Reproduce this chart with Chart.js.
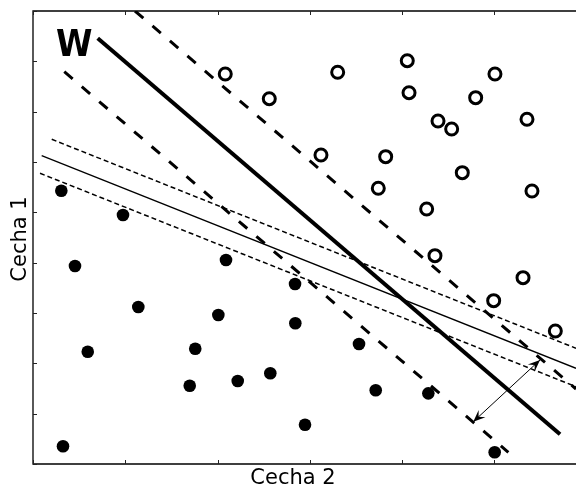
<!DOCTYPE html>
<html lang="pl">
<head>
<meta charset="UTF-8">
<title>Cecha 1 / Cecha 2</title>
<script src="https://cdn.jsdelivr.net/npm/chart.js"></script>
<style>
  html, body { margin: 0; padding: 0; background: #fff; }
  #wrap { width: 576px; height: 488px; }
</style>
</head>
<body>
<div id="wrap"><canvas id="svm" width="576" height="488"></canvas></div>
<script>
// class 1 - open circles
const openX = [2.083, 2.560, 3.301, 4.055, 4.074, 5.005, 4.796, 4.388, 4.536, 5.352,
               3.120, 3.821, 3.741, 4.651, 5.406, 4.265, 4.355, 5.309, 4.991, 5.659];
const openY = [7.749, 7.258, 7.783, 8.013, 7.377, 7.749, 7.278, 6.815, 6.656, 6.849,
               6.139, 6.106, 5.478, 5.788, 5.424, 5.067, 4.139, 3.702, 3.245, 2.643];

// class 2 - filled dots
const dotX = [0.307, 0.975, 0.455, 1.141, 0.593, 2.091, 2.008, 1.758, 1.698, 2.218,
              2.571, 0.325, 2.839, 2.842, 3.532, 3.713, 4.283, 2.947, 5.002];
const dotY = [5.430, 4.947, 3.934, 3.119, 2.231, 4.053, 2.960, 2.291, 1.556, 1.649,
              1.802, 0.352, 3.576, 2.796, 2.384, 1.464, 1.404, 0.781, 0.232];

// separating line W and its margins (end points)
const wX = [0.701, 5.710],      wY = [8.458, 0.590];
const wUpX = [1.105, 5.883],    wUpY = [9.000, 1.490];
const wLoX = [0.339, 5.150],    wLoY = [7.795, 0.232];

// the other (thin) separating line and its margins
const thinX = [0.094, 5.883],   thinY = [6.126, 1.901];
const thinUpX = [0.203, 5.883], thinUpY = [6.451, 2.299];
const thinLoX = [0.076, 5.883], thinLoY = [5.776, 1.536];

// margin arrow
const arrowX = [4.770, 5.493],  arrowY = [0.840, 2.066];

// axes
const xMin = 0, xMax = 5.883;
const yMin = 0, yMax = 9;
const xTicks = [0, 1, 2, 3, 4, 5];
const yTicks = [0, 1, 2, 3, 4, 5, 6, 7, 8, 9];
const xTitle = 'Cecha 2';
const yTitle = 'Cecha 1';
const wLabel = 'W';

const pts = (xs, ys) => xs.map((v, i) => ({ x: v, y: ys[i] }));

function lineSet(xs, ys, width, dash) {
    return {
        data: pts(xs, ys),
        showLine: true,
        borderColor: '#000',
        borderWidth: width,
        borderDash: dash || [],
        pointRadius: 0,
        fill: false
    };
}

// frame, inward ticks, titles and the W label
const framePlugin = {
    id: 'frame',
    afterDatasetsDraw(chart) {
        const { ctx, chartArea: a, scales: { x, y } } = chart;
        ctx.save();
        ctx.strokeStyle = '#000';
        ctx.lineWidth = 1.3;
        ctx.beginPath();
        ctx.moveTo(a.right + 2, a.top);
        ctx.lineTo(a.left, a.top);
        ctx.lineTo(a.left, a.bottom);
        ctx.lineTo(a.right + 2, a.bottom);
        ctx.stroke();

        ctx.lineWidth = 1;
        ctx.strokeStyle = '#222';
        ctx.beginPath();
        xTicks.forEach(v => {
            const px = Math.round(x.getPixelForValue(v)) + 0.5;
            ctx.moveTo(px, a.top); ctx.lineTo(px, a.top + 4);
            ctx.moveTo(px, a.bottom); ctx.lineTo(px, a.bottom - 4);
        });
        yTicks.forEach(v => {
            const py = Math.round(y.getPixelForValue(v)) + 0.5;
            ctx.moveTo(a.left, py); ctx.lineTo(a.left + 4, py);
        });
        ctx.stroke();

        ctx.fillStyle = '#000';
        ctx.font = '21px "DejaVu Sans"';
        ctx.textAlign = 'center';
        ctx.textBaseline = 'alphabetic';
        ctx.fillText(xTitle, a.left + 260, a.bottom + 20);

        ctx.save();
        ctx.translate(a.left - 7, a.top + 228);
        ctx.rotate(-Math.PI / 2);
        ctx.fillText(yTitle, 0, 0);
        ctx.restore();

        ctx.save();
        ctx.font = 'bold 38px "DejaVu Sans"';
        ctx.textAlign = 'left';
        ctx.translate(a.left + 23, a.top + 45);
        ctx.scale(0.87, 1);
        ctx.fillText(wLabel, 0, 0);
        ctx.restore();
        ctx.restore();
    }
};

// arrow heads on both ends of the margin arrow
const arrowPlugin = {
    id: 'arrowHeads',
    afterDatasetsDraw(chart) {
        const { ctx, scales: { x, y } } = chart;
        const p0 = { x: x.getPixelForValue(arrowX[0]), y: y.getPixelForValue(arrowY[0]) };
        const p1 = { x: x.getPixelForValue(arrowX[1]), y: y.getPixelForValue(arrowY[1]) };
        const head = (tip, from) => {
            const ang = Math.atan2(tip.y - from.y, tip.x - from.x);
            const len = 12, half = 5;
            ctx.save();
            ctx.translate(tip.x, tip.y);
            ctx.rotate(ang);
            ctx.beginPath();
            ctx.moveTo(0, 0);
            ctx.lineTo(-len, -half);
            ctx.lineTo(-len * 0.6, 0);
            ctx.lineTo(-len, half);
            ctx.closePath();
            ctx.fillStyle = '#000';
            ctx.fill();
            ctx.restore();
        };
        head(p0, p1);
        head(p1, p0);
    }
};

new Chart(document.getElementById('svm').getContext('2d'), {
    type: 'scatter',
    data: {
        datasets: [
            lineSet(wX, wY, 4),
            lineSet(wUpX, wUpY, 3, [11, 12]),
            lineSet(wLoX, wLoY, 3, [11, 12]),
            lineSet(thinX, thinY, 1.3),
            lineSet(thinUpX, thinUpY, 1.5, [5, 3]),
            lineSet(thinLoX, thinLoY, 1.5, [5, 3]),
            lineSet(arrowX, arrowY, 1),
            {
                data: pts(openX, openY),
                pointStyle: 'circle',
                pointRadius: 6,
                pointBorderWidth: 3,
                pointBorderColor: '#000',
                pointBackgroundColor: '#fff'
            },
            {
                data: pts(dotX, dotY),
                pointStyle: 'circle',
                pointRadius: 6.3,
                pointBorderWidth: 0,
                pointBackgroundColor: '#000'
            }
        ]
    },
    options: {
        responsive: false,
        animation: false,
        events: [],
        layout: { autoPadding: false, padding: { left: 33, top: 11, right: 0, bottom: 24 } },
        plugins: { legend: { display: false }, tooltip: { enabled: false } },
        scales: {
            x: { type: 'linear', min: xMin, max: xMax, display: false },
            y: { type: 'linear', min: yMin, max: yMax, display: false }
        }
    },
    plugins: [framePlugin, arrowPlugin]
});
</script>
</body>
</html>
